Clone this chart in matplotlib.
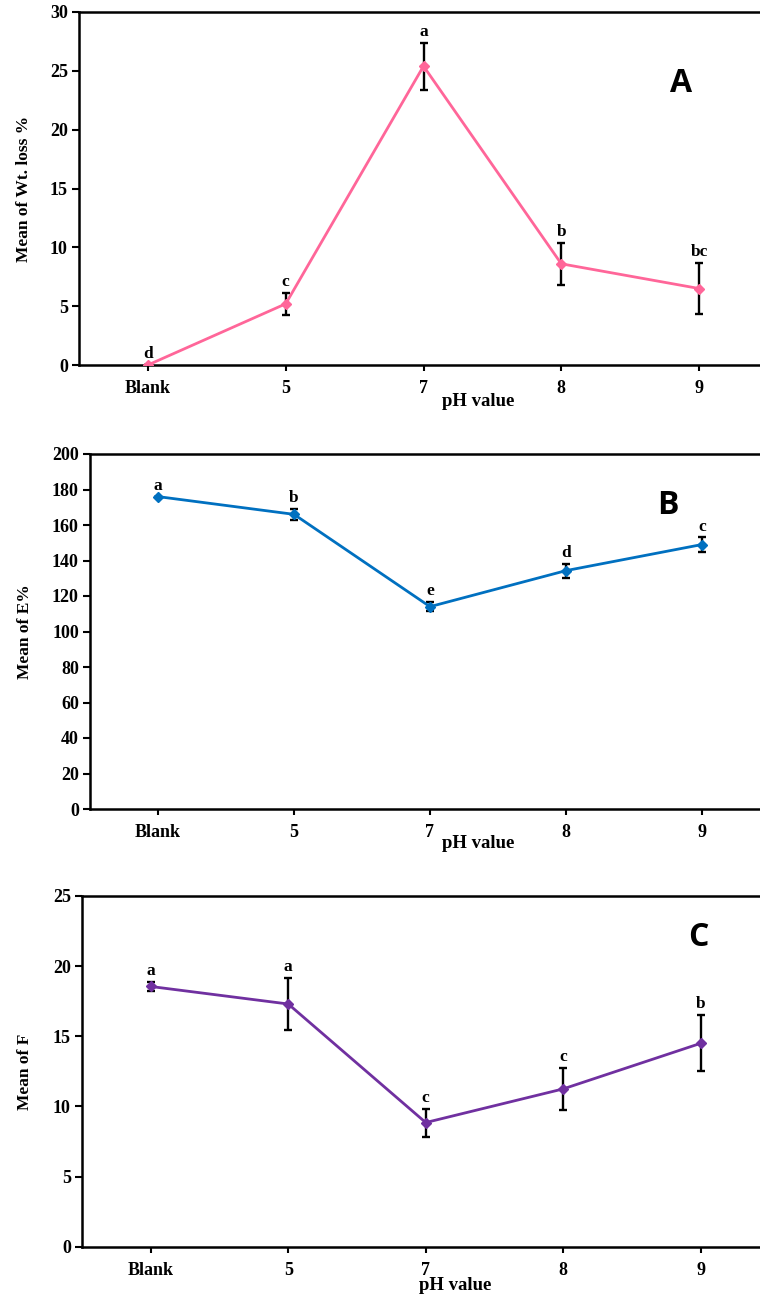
import matplotlib.pyplot as plt

# data
ph_labels = ['Blank', '5', '7', '8', '9']

wt_loss = [0.0, 5.2, 25.4, 8.6, 6.5]
wt_loss_err = [0.0, 0.95, 2.0, 1.8, 2.2]
wt_loss_grp = ['d', 'c', 'a', 'b', 'bc']

e_pct = [176.0, 166.0, 114.0, 134.3, 149.0]
e_pct_err = [0.0, 3.0, 2.5, 4.0, 4.0]
e_pct_grp = ['a', 'b', 'e', 'd', 'c']

f_mean = [18.55, 17.3, 8.85, 11.25, 14.5]
f_mean_err = [0.35, 1.85, 1.0, 1.5, 2.0]
f_mean_grp = ['a', 'a', 'c', 'c', 'b']

serif = 'Liberation Serif'
W, H = 760, 1297

fig = plt.figure(figsize=(W / 100, H / 100), dpi=100)

# panel settings: (values, errors, groups, colour, ylabel, ymax, ystep, letter,
#  axes box in pixels (left, top, right, bottom), ylabel x px, xlabel centre px, letter pos px)
panels = [
    (wt_loss, wt_loss_err, wt_loss_grp, '#FF6699', 'Mean of Wt. loss %', 30, 5, 'A',
     (79, 12, 768, 365), 24, (478, 402), (681, 84)),
    (e_pct, e_pct_err, e_pct_grp, '#0070C0', 'Mean of E%', 200, 20, 'B',
     (90, 454, 770, 809), 25, (478, 844), (668, 506)),
    (f_mean, f_mean_err, f_mean_grp, '#7030A0', 'Mean of F', 25, 5, 'C',
     (82, 896, 769.5, 1246.7), 25, (455, 1286), (698, 938)),
]

x = list(range(len(ph_labels)))

for vals, errs, grps, col, ylab, ymax, ystep, letter, box, ylx, xlab, lpos in panels:
    l, t, r, b = box
    ax = fig.add_axes([l / W, 1 - b / H, (r - l) / W, (b - t) / H])

    ax.errorbar(x, vals, yerr=errs, fmt='none', ecolor='black', elinewidth=1.7,
                capsize=3, capthick=1.7, zorder=2)
    ax.plot(x, vals, color=col, lw=2, marker='D', markersize=5, zorder=3)

    for xi, v, e, g in zip(x, vals, errs, grps):
        ax.annotate(g, (xi, v + e), xytext=(0, 2), textcoords='offset points',
                    ha='center', va='bottom', fontsize=12.5, fontweight='bold',
                    family=serif)

    ax.set_xlim(-0.5, 4.5)
    ax.set_ylim(0, ymax)
    ax.set_yticks(range(0, ymax + 1, ystep))
    ax.set_xticks(x)
    ax.set_xticklabels(ph_labels)

    for s in ['left', 'top', 'bottom', 'right']:
        ax.spines[s].set_linewidth(1.8)

    ax.tick_params(axis='y', direction='out', length=5, width=1.5, pad=3)
    ax.tick_params(axis='x', direction='out', length=4, width=1.5, pad=7)
    for lab in ax.get_xticklabels() + ax.get_yticklabels():
        lab.set_fontsize(13)
        lab.set_fontweight('bold')
        lab.set_family(serif)

    ax.set_ylabel(ylab, fontsize=12.5, fontweight='bold', family=serif, va='center')
    ax.yaxis.set_label_coords((ylx - l) / (r - l), 0.5)
    ax.set_xlabel('pH value', fontsize=13.5, fontweight='bold', family=serif, va='center')
    ax.xaxis.set_label_coords((xlab[0] - l) / (r - l), (b - xlab[1]) / (b - t))

    ax.text((lpos[0] - l) / (r - l), (b - lpos[1]) / (b - t), letter,
            transform=ax.transAxes, ha='center', va='center',
            fontsize=23, fontweight='bold', family='Open Sans')

plt.savefig('out.png', dpi=100)
